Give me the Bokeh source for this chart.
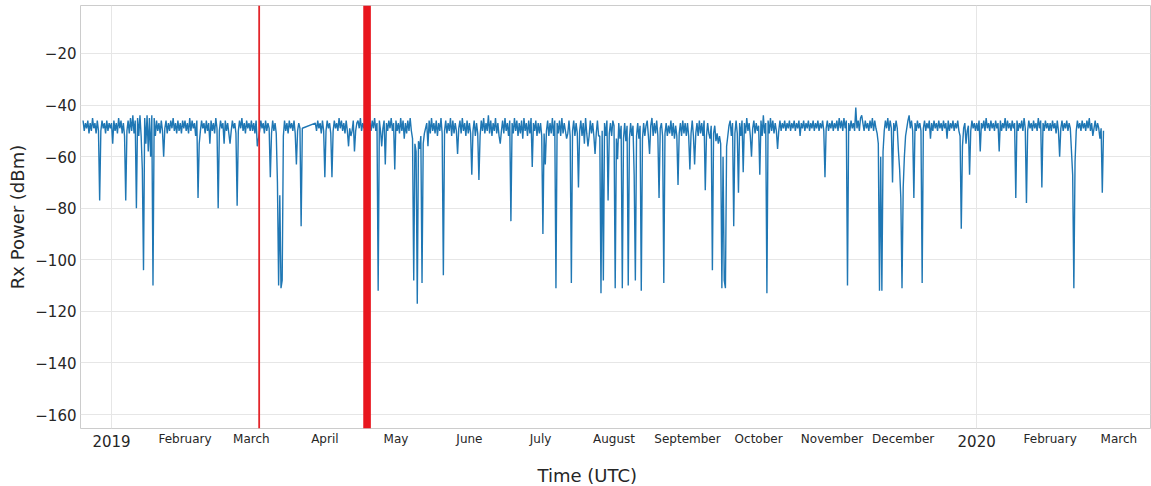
from datetime import datetime, timedelta

from bokeh.plotting import figure
from bokeh.models import (Range1d, FixedTicker, BoxAnnotation, Span, DatetimeAxis,
                          Title)
from bokeh.embed import file_html
from bokeh.resources import INLINE

# Received power (dBm), two samples per day at 00:00 and 12:00 UTC
rx_2018_12 = [-46, -50, -47, -49, -46, -51, -47, -50, -45, -49, -47, -51, -46, -50,
              -77, -50, -46, -49, -47, -51, -46, -50, -47, -49]
rx_2019_01 = [-47, -55, -46, -50, -47, -51, -45, -49, -46, -51, -47, -52, -77, -50,
              -46, -51, -45, -50, -44, -51, -46, -80, -45, -52, -44, -52, -65, -104,
              -45, -55, -44, -58, -45, -60, -44, -110, -45, -52, -46, -50, -47, -51,
              -46, -50, -60, -49, -46, -51, -47, -50, -46, -49, -45, -50, -47, -51,
              -46, -50, -47, -51, -46, -49]
rx_2019_02 = [-46, -50, -47, -51, -45, -50, -46, -49, -47, -52, -46, -76, -55, -50,
              -46, -49, -47, -51, -46, -50, -47, -55, -46, -50, -47, -51, -45, -49,
              -80, -50, -46, -49, -47, -55, -46, -50, -47, -51, -55, -50, -46, -49,
              -47, -51, -79, -50, -46, -49, -45, -50, -47, -51, -46, -49, -47, -50]
rx_2019_03a = [-46, -50, -47, -51, -46, -56, -53, -50, -46, -49, -47, -51, -46, -50,
               -47, -49, -68, -51, -46, -50, -47, -51, -70, -110, -75, -111, -108, -52,
               -46, -50, -47, -51, -46, -49, -47, -50, -46, -51, -63, -50, -47, -49,
               -87, -49]
rx_2019_03b = [-47, -50, -46, -49, -47, -51, -46, -50]
rx_2019_04 = [-68, -50, -46, -49, -47, -51, -68, -50, -46, -49, -47, -50, -45, -49,
              -46, -50, -47, -51, -46, -50, -56, -49, -52, -50, -46, -58, -50, -47,
              -46, -49, -45, -50, -47, -49, -46, -50, -45, -49, -47, -50, -46, -49,
              -45, -50, -47, -112, -46, -50, -56, -49, -46, -63, -47, -50, -46, -49,
              -45, -50, -47, -65]
rx_2019_05 = [-46, -50, -47, -51, -45, -50, -46, -53, -47, -51, -46, -50, -45, -50,
              -53, -108, -55, -58, -117, -54, -57, -52, -109, -55, -51, -49, -47, -56,
              -46, -51, -45, -50, -47, -51, -46, -52, -47, -50, -45, -51, -106, -50,
              -46, -51, -47, -50, -45, -52, -46, -51, -47, -50, -59, -49, -46, -51,
              -45, -50, -47, -52, -46, -51]
rx_2019_06 = [-47, -51, -67, -50, -46, -52, -47, -51, -69, -52, -46, -50, -45, -51,
              -47, -50, -44, -51, -46, -52, -47, -50, -45, -51, -47, -52, -55, -50,
              -46, -51, -45, -50, -47, -52, -46, -85, -47, -51, -45, -50, -46, -52,
              -47, -51, -46, -53, -45, -50, -47, -52, -46, -51, -45, -64, -47, -50,
              -46, -52, -47, -51]
rx_2019_07 = [-47, -52, -90, -51, -63, -50, -46, -52, -47, -51, -45, -52, -46, -111,
              -47, -51, -46, -52, -45, -51, -47, -50, -53, -51, -46, -52, -109, -50,
              -46, -52, -47, -51, -72, -50, -46, -52, -47, -55, -45, -51, -56, -52,
              -46, -51, -47, -52, -59, -51, -46, -52, -52, -113, -50, -108, -47, -52,
              -46, -77, -51, -47, -52, -46]
rx_2019_08 = [-48, -111, -53, -61, -47, -53, -48, -111, -53, -47, -54, -48, -110, -53,
              -47, -52, -48, -67, -108, -52, -47, -53, -48, -112, -53, -47, -52, -48,
              -46, -52, -59, -48, -45, -52, -47, -51, -46, -52, -76, -49, -47, -52,
              -109, -51, -47, -52, -48, -51, -46, -52, -47, -53, -48, -52, -71, -51,
              -47, -52, -46, -51, -47, -52]
rx_2019_09 = [-47, -52, -65, -51, -46, -52, -63, -51, -47, -52, -46, -51, -47, -52,
              -46, -73, -52, -47, -51, -53, -48, -104, -51, -48, -54, -51, -55, -52,
              -55, -111, -60, -108, -111, -56, -52, -48, -46, -52, -47, -87, -51, -46,
              -51, -74, -47, -52, -46, -66, -47, -51, -45, -50, -47, -52, -60, -49,
              -46, -51, -47, -50]
rx_2019_10 = [-48, -67, -46, -52, -44, -51, -47, -113, -46, -51, -45, -50, -46, -51,
              -47, -50, -57, -50, -46, -50, -47, -49, -46, -50, -47, -49, -46, -50,
              -47, -49, -46, -50, -47, -49, -46, -52, -47, -49, -46, -50, -47, -49,
              -46, -50, -47, -49, -46, -50, -47, -49, -46, -50, -47, -49, -46, -50,
              -68, -49, -46, -50, -47, -49]
rx_2019_11 = [-46, -50, -47, -49, -46, -50, -45, -49, -46, -50, -45, -49, -46, -110,
              -47, -50, -46, -49, -47, -50, -41, -49, -46, -50, -45, -44, -47, -50,
              -46, -49, -47, -50, -46, -49, -45, -50, -46, -49, -51, -55, -112, -60,
              -112, -58, -50, -46, -49, -45, -50, -46, -49, -70, -47, -50, -46, -49,
              -58, -65, -76, -111]
rx_2019_12 = [-72, -60, -52, -49, -46, -44, -49, -46, -50, -76, -47, -50, -46, -49,
              -47, -50, -109, -49, -46, -50, -47, -49, -46, -53, -47, -50, -46, -49,
              -47, -50, -46, -49, -47, -50, -46, -49, -47, -53, -46, -50, -47, -49,
              -46, -50, -47, -49, -46, -50, -52, -88, -56, -49, -47, -55, -50, -48,
              -67, -50, -46, -49, -47, -50]
rx_2020_01 = [-47, -50, -46, -58, -47, -49, -46, -50, -45, -49, -47, -50, -46, -49,
              -47, -50, -46, -49, -47, -58, -46, -50, -47, -49, -45, -50, -46, -49,
              -47, -50, -46, -49, -47, -76, -46, -50, -47, -49, -46, -50, -45, -49,
              -78, -50, -46, -49, -47, -50, -46, -49, -47, -50, -45, -49, -46, -72,
              -47, -50, -46, -49, -47, -50]
rx_2020_02 = [-47, -50, -46, -49, -47, -51, -46, -50, -60, -49, -46, -50, -47, -49,
              -46, -50, -47, -49, -58, -67, -111, -62, -50, -46, -49, -47, -50, -46,
              -49, -47, -50, -46, -49, -45, -50, -47, -52, -49, -46, -50, -47, -49,
              -53, -49, -74, -50]

# Each block starts at its first sample; the line bridges the gap in late March 2019
segments = [
    (datetime(2018, 12, 20), rx_2018_12),
    (datetime(2019, 1, 1), rx_2019_01),
    (datetime(2019, 2, 1), rx_2019_02),
    (datetime(2019, 3, 1), rx_2019_03a),
    (datetime(2019, 3, 28), rx_2019_03b),
    (datetime(2019, 4, 1), rx_2019_04),
    (datetime(2019, 5, 1), rx_2019_05),
    (datetime(2019, 6, 1), rx_2019_06),
    (datetime(2019, 7, 1), rx_2019_07),
    (datetime(2019, 8, 1), rx_2019_08),
    (datetime(2019, 9, 1), rx_2019_09),
    (datetime(2019, 10, 1), rx_2019_10),
    (datetime(2019, 11, 1), rx_2019_11),
    (datetime(2019, 12, 1), rx_2019_12),
    (datetime(2020, 1, 1), rx_2020_01),
    (datetime(2020, 2, 1), rx_2020_02),
]

# Marked events
event_time = datetime(2019, 3, 4, 7)
outage_start = datetime(2019, 4, 17, 5)
outage_end = datetime(2019, 4, 20, 10)

# Axis ticks
month_ticks = [datetime(2019, m, 1) for m in range(1, 13)] + [
    datetime(2020, 1, 1), datetime(2020, 2, 1), datetime(2020, 3, 1)]
month_labels = ["", "February", "March", "April", "May", "June", "July", "August",
                "September", "October", "November", "December", "", "February", "March"]
year_ticks = [datetime(2019, 1, 1), datetime(2020, 1, 1)]
year_labels = ["2019", "2020"]
y_ticks = [-20, -40, -60, -80, -100, -120, -140, -160]

EPOCH = datetime(1970, 1, 1)


def ms(dt):
    return (dt - EPOCH).total_seconds() * 1000.0


times, power = [], []
for start, values in segments:
    for i, v in enumerate(values):
        times.append(start + timedelta(hours=12 * i))
        power.append(v)

FONT = "DejaVu Sans"
TEXT = "#262626"

p = figure(
    width=1151, height=486,
    x_axis_type="datetime",
    x_range=Range1d(ms(datetime(2018, 12, 18, 22)), ms(datetime(2020, 3, 14, 8))),
    y_range=Range1d(-165.4, -1.4),
    output_backend="svg", toolbar_location=None,
    min_border_left=80, min_border_right=1, min_border_top=5, min_border_bottom=58,
)
p.background_fill_color = "white"
p.border_fill_color = "white"
p.outline_line_color = "#cccccc"
p.outline_line_width = 1

p.line(times, power, line_color="#1f77b4", line_width=1.4)

# Event marker and outage window
p.add_layout(Span(location=ms(event_time), dimension="height",
                  line_color="#e3262b", line_width=1.8))
p.add_layout(BoxAnnotation(left=ms(outage_start), right=ms(outage_end),
                           fill_color="#e8161e", fill_alpha=1.0, line_color=None))


def style_axis(ax, size, standoff):
    ax.major_label_text_font = FONT
    ax.major_label_text_font_size = size
    ax.major_label_text_color = TEXT
    ax.major_label_standoff = standoff
    ax.major_tick_out = 0
    ax.major_tick_in = 0
    ax.minor_tick_out = 0
    ax.minor_tick_in = 0
    ax.axis_line_color = None


# x axis: month names next to the frame, years in a larger font on a second axis
xa = p.xaxis[0]
xa.ticker = FixedTicker(ticks=[ms(d) for d in month_ticks])
xa.major_label_overrides = {ms(d): lab for d, lab in zip(month_ticks, month_labels)}
style_axis(xa, "12px", 3)

year_axis = DatetimeAxis(ticker=FixedTicker(ticks=[ms(d) for d in year_ticks]))
year_axis.major_label_overrides = {ms(d): lab for d, lab in zip(year_ticks, year_labels)}
style_axis(year_axis, "15px", -14)
# blank axis label keeps a gap between the year labels and the axis title
year_axis.axis_label = " "
year_axis.axis_label_text_font_size = "8px"
year_axis.axis_label_standoff = 0
p.add_layout(year_axis, "below")

p.add_layout(Title(text="Time (UTC)", align="left", offset=457, standoff=2,
                   text_font=FONT, text_font_size="18px", text_font_style="normal",
                   text_color=TEXT), "below")

# y axis
ya = p.yaxis[0]
ya.ticker = FixedTicker(ticks=y_ticks)
ya.major_label_overrides = {v: "\u2212" + str(abs(v)) for v in y_ticks}
style_axis(ya, "15px", 4)
ya.axis_label = "Rx Power (dBm)"
ya.axis_label_text_font = FONT
ya.axis_label_text_font_size = "18px"
ya.axis_label_text_font_style = "normal"
ya.axis_label_text_color = TEXT
ya.axis_label_standoff = 4

# grid: horizontal at every y tick, vertical only at year boundaries
p.ygrid.ticker = FixedTicker(ticks=y_ticks)
p.xgrid.ticker = FixedTicker(ticks=[ms(d) for d in year_ticks])
p.grid.grid_line_color = "#e6e6e6"
p.grid.grid_line_width = 1

open("out.html", "w").write(file_html(p, INLINE))
